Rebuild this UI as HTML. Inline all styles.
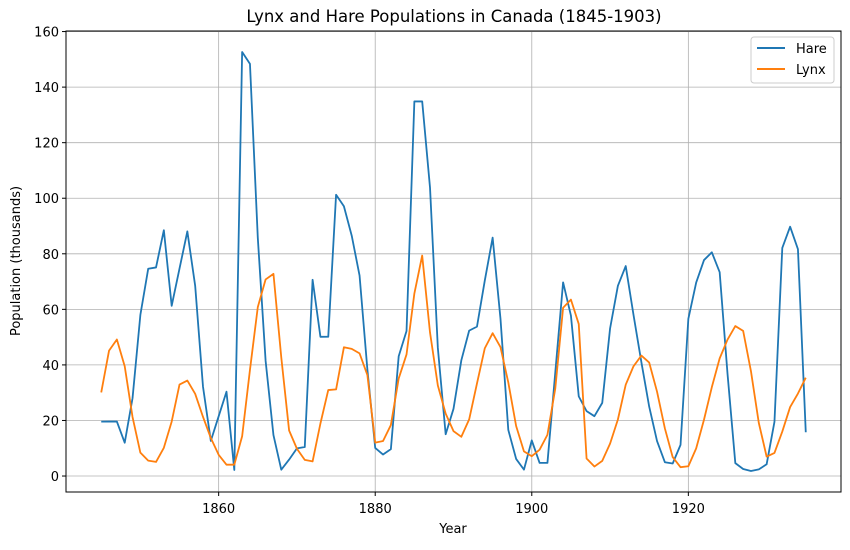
<!DOCTYPE html>
<html><head><meta charset="utf-8"><style>
body{margin:0;background:#fff;}
svg text{font-family:"DejaVu Sans","Liberation Sans",sans-serif;fill:#000;}
</style></head><body>
<svg id="chart" width="850" height="545" xmlns="http://www.w3.org/2000/svg">
<rect width="850" height="545" fill="#fff"/>
<text x="454" y="22" font-size="16.5" text-anchor="middle">Lynx and Hare Populations in Canada (1845-1903)</text>
<g id="grid"></g>
<g id="lines"></g>
<rect x="66" y="31" width="775" height="461" fill="none" stroke="#000" stroke-width="1"/>
<g id="ticks"></g>
<text x="453" y="533" font-size="13" text-anchor="middle">Year</text>
<text x="20" y="261" font-size="13" text-anchor="middle" transform="rotate(-90 20 261)">Population (thousands)</text>
<g>
<rect x="751" y="37" width="83" height="46" rx="3" fill="#fff" fill-opacity="0.8" stroke="#ccc"/>
<g><line x1="757" y1="48" x2="785" y2="48" stroke="#1f77b4" stroke-width="2"/><text x="796" y="53" font-size="13">Hare</text></g>
<g><line x1="757" y1="69" x2="785" y2="69" stroke="#ff7f0e" stroke-width="2"/><text x="796" y="74" font-size="13">Lynx</text></g>
</g>
</svg>
<script>
const startYear = 1845;
const hare = [19.58,19.6,19.61,11.99,28.04,58.0,74.6,75.09,88.48,61.28,74.67,88.06,68.51,32.19,12.64,21.49,30.35,2.18,152.65,148.36,85.81,41.41,14.75,2.28,5.91,9.95,10.44,70.64,50.12,50.13,101.25,97.12,86.51,72.17,38.32,10.11,7.74,9.67,43.12,52.21,134.85,134.86,103.79,46.1,15.03,24.2,41.65,52.34,53.78,70.4,85.81,56.69,16.59,6.16,2.3,12.82,4.72,4.73,37.22,69.72,57.78,28.68,23.37,21.54,26.34,53.1,68.48,75.58,57.92,40.97,24.95,12.59,4.97,4.5,11.21,56.6,69.63,77.74,80.53,73.38,36.93,4.64,2.54,1.8,2.39,4.23,19.52,82.11,89.76,81.66,15.76];
const lynx = [30.09,45.15,49.15,39.52,21.23,8.42,5.56,5.08,10.17,19.6,32.91,34.38,29.59,21.3,13.69,7.65,4.08,4.09,14.33,38.22,60.78,70.77,72.77,42.68,16.39,9.83,5.8,5.26,18.91,30.95,31.18,46.34,45.77,44.15,36.33,12.03,12.6,18.34,35.14,43.77,65.69,79.35,51.65,32.59,22.45,16.16,14.12,20.38,33.33,46.0,51.41,46.43,33.68,18.01,8.86,7.13,9.47,14.86,31.47,60.57,63.51,54.7,6.3,3.41,5.44,11.65,20.35,32.88,39.55,43.36,40.83,30.36,17.18,6.82,3.19,3.52,9.94,20.3,31.99,42.36,49.08,53.99,52.25,37.7,19.14,6.98,8.31,16.01,24.82,29.7,35.4];
const xTicks = [1860,1880,1900,1920];
const yTicks = [0,20,40,60,80,100,120,140,160];
const X0=66,X1=841,Y0=31,Y1=492;
const xMin=1840.5,xMax=1939.5,yMin=-5.75,yMax=160.2;
const sx=v=>X0+(v-xMin)/(xMax-xMin)*(X1-X0);
const sy=v=>Y1-(v-yMin)/(yMax-yMin)*(Y1-Y0);
const NS="http://www.w3.org/2000/svg";
const grid=document.getElementById('grid'),ticks=document.getElementById('ticks'),lines=document.getElementById('lines');
function mk(tag,attrs,parent){const e=document.createElementNS(NS,tag);for(const k in attrs)e.setAttribute(k,attrs[k]);parent.appendChild(e);return e;}
xTicks.forEach(t=>{const x=sx(t);
 const g=mk('line',{x1:x,x2:x,y1:Y0,y2:Y1,stroke:'#b0b0b0','stroke-width':0.8},grid);
 
 
 mk('line',{x1:x,x2:x,y1:Y1,y2:Y1+4,stroke:'#000'},ticks);
 const tx=mk('text',{x:x,y:Y1+21,'font-size':13,'text-anchor':'middle'},ticks);tx.textContent=t;
 
 
});
yTicks.forEach(t=>{const y=sy(t);
 const g=mk('line',{x1:X0,x2:X1,y1:y,y2:y,stroke:'#b0b0b0','stroke-width':0.8},grid);
 
 
 mk('line',{x1:X0-4,x2:X0,y1:y,y2:y,stroke:'#000'},ticks);
 const tx=mk('text',{x:X0-7,y:y+5,'font-size':13,'text-anchor':'end'},ticks);tx.textContent=t;
 
 
});
function path(arr){return arr.map((v,i)=>(i?'L':'M')+sx(startYear+i).toFixed(2)+','+sy(v).toFixed(2)).join('');}
const ph=mk('path',{d:path(hare),fill:'none',stroke:'#1f77b4','stroke-width':1.8,'stroke-linejoin':'round'},lines);


const pl=mk('path',{d:path(lynx),fill:'none',stroke:'#ff7f0e','stroke-width':1.8,'stroke-linejoin':'round'},lines);


</script>
</body></html>
